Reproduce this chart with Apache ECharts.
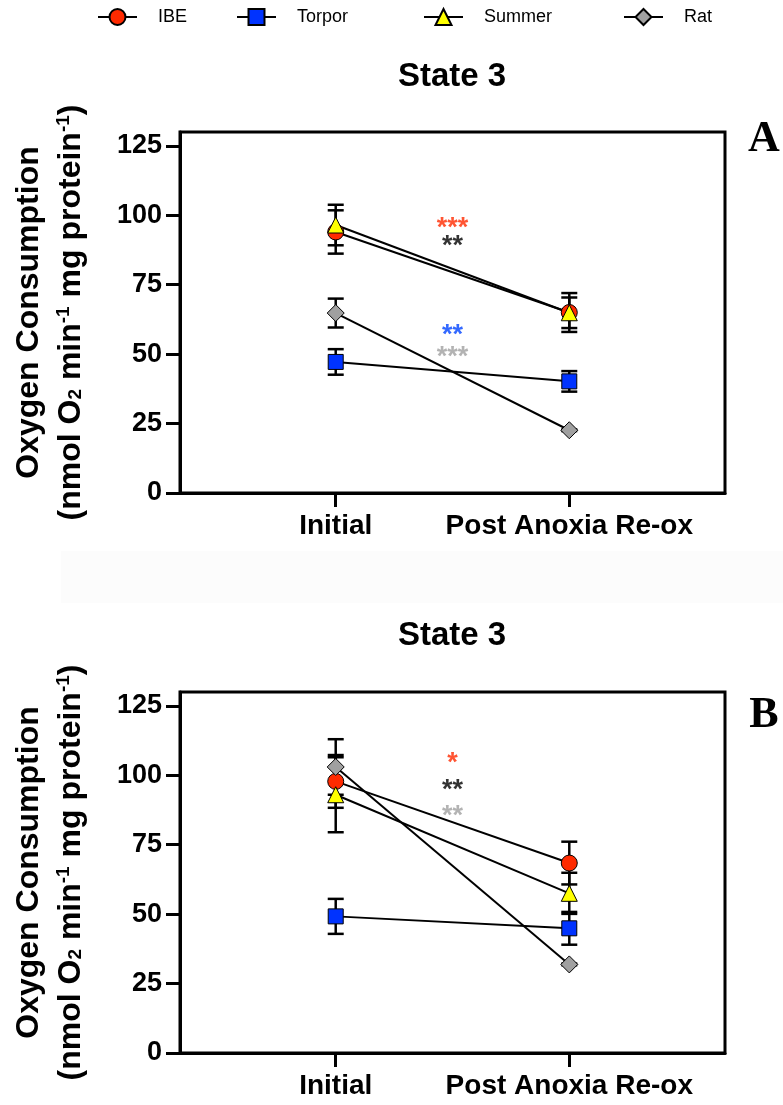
<!DOCTYPE html>
<html>
<head>
<meta charset="utf-8">
<script src="https://cdn.jsdelivr.net/npm/echarts@6/dist/echarts.min.js"></script>
<style>
  html, body { margin: 0; padding: 0; background: #ffffff; }
  #chart { width: 783px; height: 1105px; }
</style>
</head>
<body>
<div id="chart"></div>
<script>
// Time points on the x axis (placed at x = 1 and x = 2)
const timepoints = ['Initial', 'Post Anoxia Re-ox'];
const groupNames = ['IBE', 'Torpor', 'Summer', 'Rat'];
const yTicks = [0, 25, 50, 75, 100, 125];

// Panel A – State 3 respiration, mean and SEM
const ibeA = [94.0, 65.0];
const ibeErrA = [7.8, 7.0];
const torporA = [47.2, 40.2];
const torporErrA = [4.6, 3.7];
const summerA = [96.5, 64.9];
const summerErrA = [7.3, 5.5];
const ratA = [64.8, 22.6];
const ratErrA = [5.2, 0.3];

// Panel B – State 3 respiration, mean and SEM
const ibeB = [97.8, 68.4];
const ibeErrB = [9.5, 7.7];
const torporB = [49.2, 44.9];
const torporErrB = [6.3, 5.9];
const summerB = [93.0, 57.5];
const summerErrB = [13.5, 7.4];
const ratB = [103.0, 31.9];
const ratErrB = [10.0, 0.3];

// Significance marks between time points (text, level on the y axis)
const starsTextA = ['***', '**', '**', '***'];
const starsLevelA = [95.4, 88.6, 56.6, 48.6];
const starsTextB = ['*', '**', '**'];
const starsLevelB = [104.4, 94.5, 85.2];

const FONT = '"Liberation Sans", Arial, Helvetica, sans-serif';
const groupStyles = {
  IBE:    { symbol: 'circle',   size: 16, color: '#ff2a00' },
  Torpor: { symbol: 'rect',     size: 15, color: '#0033ff' },
  Summer: { symbol: 'triangle', size: 16, color: '#ffff00' },
  Rat:    { symbol: 'diamond',  size: 17, color: '#a0a0a0' }
};
const starColorsA = ['#ff2a00', '#000000', '#0044ff', '#a0a0a0'];
const starColorsB = ['#ff2a00', '#000000', '#a0a0a0'];

function errorBars(panel, means, errs) {
  return {
    type: 'custom',
    xAxisIndex: panel,
    yAxisIndex: panel,
    silent: true,
    data: means.map((m, i) => [i + 1, m - errs[i], m + errs[i]]),
    encode: { x: 0, y: [1, 2] },
    renderItem(params, api) {
      const x = api.value(0);
      const lo = api.coord([x, api.value(1)]);
      const hi = api.coord([x, api.value(2)]);
      const hw = 8;
      const st = { stroke: '#000', lineWidth: 2.5 };
      return {
        type: 'group',
        children: [
          { type: 'line', shape: { x1: lo[0], y1: lo[1], x2: hi[0], y2: hi[1] }, style: st },
          { type: 'line', shape: { x1: lo[0] - hw, y1: lo[1], x2: lo[0] + hw, y2: lo[1] }, style: st },
          { type: 'line', shape: { x1: hi[0] - hw, y1: hi[1], x2: hi[0] + hw, y2: hi[1] }, style: st }
        ]
      };
    }
  };
}

function meanLine(panel, name, means) {
  const g = groupStyles[name];
  return {
    type: 'line',
    name: name,
    xAxisIndex: panel,
    yAxisIndex: panel,
    data: means.map((m, i) => [i + 1, m]),
    symbol: g.symbol,
    symbolSize: g.size,
    showAllSymbol: true,
    lineStyle: { color: '#000', width: 2 },
    itemStyle: { color: g.color, borderColor: '#000', borderWidth: 1 }
  };
}

function starSeries(panel, texts, levels, colors) {
  return {
    type: 'scatter',
    xAxisIndex: panel,
    yAxisIndex: panel,
    silent: true,
    symbol: 'rect',
    symbolSize: 1,
    itemStyle: { color: 'rgba(0,0,0,0)' },
    data: texts.map((t, i) => ({
      value: [1.5, levels[i]],
      name: t,
      label: { color: colors[i] }
    })),
    label: {
      show: true,
      position: 'inside',
      formatter: p => p.name,
      fontFamily: FONT,
      fontWeight: 'bold',
      fontSize: 27
    },
    z: 5
  };
}

const panelTops = [132, 692];

const grids = panelTops.map(t => ({
  left: 180, top: t, width: 545, height: 361,
  show: true, borderColor: '#000', borderWidth: 3, backgroundColor: 'transparent'
}));

const xAxes = panelTops.map((t, i) => ({
  type: 'value',
  gridIndex: i,
  min: 1 / 3,
  max: 8 / 3,
  splitLine: { show: false },
  axisLine: { lineStyle: { color: '#000', width: 3 } },
  axisTick: { customValues: [1, 2], length: 14, lineStyle: { color: '#000', width: 3 } },
  axisLabel: {
    customValues: [1, 2],
    formatter: v => timepoints[Math.round(v) - 1],
    fontFamily: FONT, fontWeight: 'bold', fontSize: 28, color: '#000', margin: 19
  }
}));

const yName = '{a|Oxygen Consumption}\n{b|(nmol O}{sub|2}{b| min}{sup|-1}{b| mg protein}{sup|-1}{b|)}';
const yAxes = panelTops.map((t, i) => ({
  type: 'value',
  gridIndex: i,
  min: 0,
  max: 130,
  splitLine: { show: false },
  axisLine: { lineStyle: { color: '#000', width: 3 } },
  axisTick: { customValues: yTicks, length: 14, lineStyle: { color: '#000', width: 3 } },
  axisLabel: {
    customValues: yTicks,
    fontFamily: FONT, fontWeight: 'bold', fontSize: 27, color: '#000', margin: 18
  },
  name: yName,
  nameLocation: 'middle',
  nameRotate: 90,
  nameGap: 88,
  nameTextStyle: {
    align: 'center',
    rich: {
      a:   { fontFamily: FONT, fontWeight: 'bold', fontSize: 32, color: '#000', lineHeight: 42 },
      b:   { fontFamily: FONT, fontWeight: 'bold', fontSize: 32, color: '#000', lineHeight: 42 },
      sub: { fontFamily: FONT, fontWeight: 'bold', fontSize: 19, color: '#000', lineHeight: 42, verticalAlign: 'bottom', padding: [0, 0, 7, 0] },
      sup: { fontFamily: FONT, fontWeight: 'bold', fontSize: 19, color: '#000', lineHeight: 42, verticalAlign: 'top', padding: [4, 0, 0, 0] }
    }
  }
}));

const legendLefts = [97, 236, 423, 623];
const legends = groupNames.map((n, i) => ({
  data: [n],
  left: legendLefts[i],
  top: 8,
  padding: 0,
  itemWidth: 39,
  itemHeight: 20,
  selectedMode: false,
  textStyle: {
    fontFamily: FONT,
    fontSize: 18,
    color: '#000',
    padding: [0, 0, 0, 16]
  }
}));

const series = [
  errorBars(0, ibeA, ibeErrA), meanLine(0, 'IBE', ibeA),
  errorBars(0, torporA, torporErrA), meanLine(0, 'Torpor', torporA),
  errorBars(0, summerA, summerErrA), meanLine(0, 'Summer', summerA),
  errorBars(0, ratA, ratErrA), meanLine(0, 'Rat', ratA),
  starSeries(0, starsTextA, starsLevelA, starColorsA),
  errorBars(1, ibeB, ibeErrB), meanLine(1, 'IBE', ibeB),
  errorBars(1, torporB, torporErrB), meanLine(1, 'Torpor', torporB),
  errorBars(1, summerB, summerErrB), meanLine(1, 'Summer', summerB),
  errorBars(1, ratB, ratErrB), meanLine(1, 'Rat', ratB),
  starSeries(1, starsTextB, starsLevelB, starColorsB)
];

const graphics = [
  // faint band between the two panels
  { type: 'rect', shape: { x: 61, y: 551, width: 722, height: 52 }, style: { fill: '#fcfcfc' }, z: -10 },
  { type: 'text', x: 452, y: 77, style: { text: 'State 3', font: 'bold 33px ' + FONT, fill: '#000', align: 'center', verticalAlign: 'middle' } },
  { type: 'text', x: 452, y: 636, style: { text: 'State 3', font: 'bold 33px ' + FONT, fill: '#000', align: 'center', verticalAlign: 'middle' } },
  { type: 'text', x: 764, y: 140, style: { text: 'A', font: 'bold 44px "Liberation Serif", "Times New Roman", serif', fill: '#000', align: 'center', verticalAlign: 'middle' } },
  { type: 'text', x: 764, y: 716, style: { text: 'B', font: 'bold 44px "Liberation Serif", "Times New Roman", serif', fill: '#000', align: 'center', verticalAlign: 'middle' } }
];

const chart = echarts.init(document.getElementById('chart'), null, { renderer: 'canvas' });
chart.setOption({
  animation: false,
  backgroundColor: '#ffffff',
  legend: legends,
  grid: grids,
  xAxis: xAxes,
  yAxis: yAxes,
  series: series,
  graphic: graphics
});
</script>
</body>
</html>
